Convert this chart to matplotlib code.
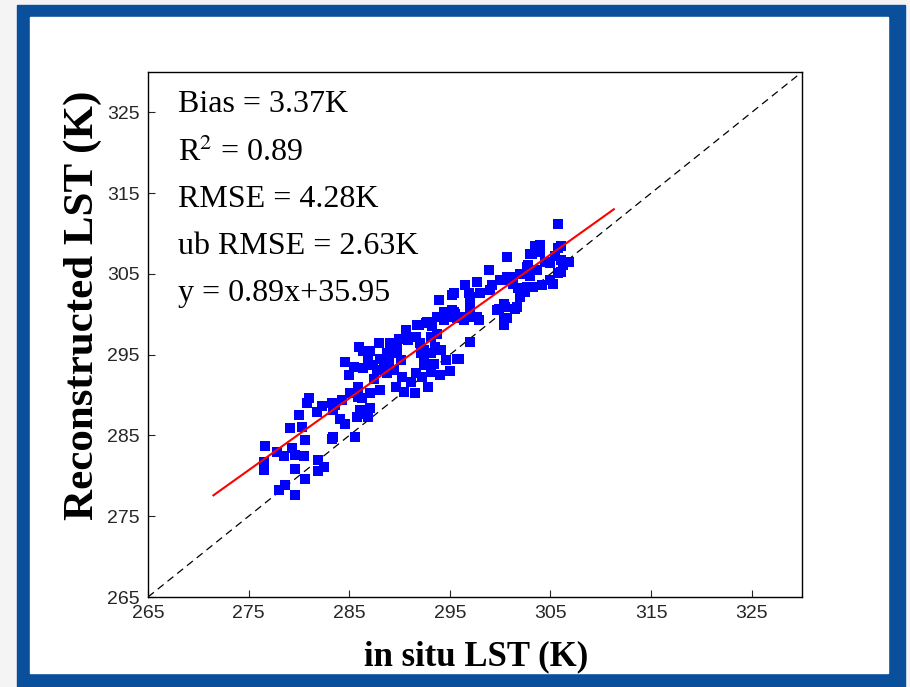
import numpy as np
import matplotlib
matplotlib.use("Agg")
import matplotlib.pyplot as plt
from matplotlib.patches import Rectangle

# scatter values (K)
insitu = [278.0, 278.6, 279.6, 280.6, 279.6, 281.9, 281.9, 282.5, 276.6, 276.5,
          276.5, 277.8, 278.5, 279.3, 279.6, 280.5, 280.6, 280.3, 279.1, 280.0,
          280.8, 281.0, 281.8, 282.3, 283.3, 284.3, 283.3, 285.6, 285.8, 286.9,
          287.1, 285.9, 283.6, 284.1, 284.6, 286.8, 286.3, 285.9, 287.1, 288.1,
          285.1, 283.4, 284.6, 286.4, 286.9, 286.4, 287.4, 288.1, 288.8, 289.1,
          289.9, 290.6, 289.7, 290.1, 289.4, 290.2, 289.6, 290.4, 291.1, 291.6,
          292.2, 292.4, 292.1, 293.1, 293.4, 293.1, 291.6, 291.9, 292.6, 293.2,
          293.1, 293.7, 294.4, 294.9, 295.5, 296.2, 297.0, 297.7, 294.1, 294.6,
          295.7, 297.0, 287.1, 287.8, 288.8, 298.9, 297.7, 296.5, 296.9, 298.0,
          299.0, 300.0, 300.7, 301.3, 302.7, 302.7, 302.0, 300.4, 299.7, 300.7,
          300.4, 301.7, 297.0, 297.4, 296.4, 295.2, 293.9, 294.4, 295.2, 295.7,
          293.7, 292.7, 291.7, 289.7, 292.4, 292.4, 300.7, 303.2, 304.0, 302.8,
          303.7, 305.0, 306.0, 306.8, 305.7, 305.0, 305.3, 304.2, 303.3, 302.5,
          301.5, 300.5, 299.9, 300.4, 299.2, 300.5, 301.2, 297.0, 297.0, 295.4,
          295.4, 297.9, 295.9, 305.7, 303.5, 304.0, 303.0, 305.7, 306.0, 306.2,
          306.0, 283.4, 286.1, 285.5, 288.5, 289.0, 286.0, 288.0, 287.5, 285.0,
          292.0, 293.5, 290.8, 294.0, 295.0, 292.8, 291.5, 304.5, 303.0, 305.5,
          302.0, 301.8]
recon = [278.3, 278.9, 277.6, 279.6, 280.8, 282.0, 280.6, 281.1, 283.7, 281.7,
         280.7, 283.0, 282.4, 283.4, 282.6, 282.4, 284.4, 286.1, 285.9, 287.5,
         289.0, 289.6, 287.9, 288.6, 289.0, 289.4, 284.6, 284.8, 287.3, 287.3,
         288.4, 289.8, 288.8, 287.0, 286.4, 287.7, 289.6, 291.0, 290.2, 290.6,
         290.2, 288.1, 294.1, 295.4, 294.3, 293.3, 293.7, 294.5, 295.2, 296.4,
         297.0, 298.0, 295.2, 294.3, 293.1, 292.3, 291.0, 290.4, 291.6, 292.7,
         292.3, 293.7, 295.2, 295.2, 293.9, 292.9, 297.2, 298.7, 298.9, 298.5,
         297.2, 297.6, 299.3, 299.7, 300.1, 299.7, 300.1, 299.7, 295.6, 294.3,
         294.5, 296.6, 295.4, 293.1, 292.7, 305.5, 304.0, 303.6, 302.6, 302.6,
         303.0, 304.2, 304.6, 303.8, 305.9, 303.4, 302.2, 301.3, 300.5, 299.5,
         298.7, 300.9, 300.9, 299.7, 299.3, 302.4, 301.8, 300.3, 300.5, 299.5,
         299.7, 299.1, 298.7, 296.0, 295.6, 294.3, 307.1, 307.5, 307.7, 306.1,
         305.5, 306.3, 306.7, 306.5, 305.1, 304.2, 303.8, 303.6, 303.4, 302.8,
         300.7, 300.9, 300.7, 299.3, 303.6, 304.2, 304.6, 302.2, 299.9, 302.6,
         300.3, 299.3, 294.5, 311.2, 308.4, 308.6, 307.5, 308.2, 308.4, 306.1,
         305.3, 284.8, 288.1, 293.5, 293.8, 294.0, 296.0, 296.5, 292.0, 292.5,
         296.5, 296.0, 296.8, 292.5, 293.0, 291.0, 290.2, 306.5, 304.8, 307.2,
         305.0, 303.2]

fit_slope = 0.89
fit_intercept = 35.95
fit_x_range = [271.5, 311.3]
axis_range = [265, 330]
ticks = [265, 275, 285, 295, 305, 315, 325]
stats_lines = ["Bias = 3.37K", r"R$^{2}$ = 0.89", "RMSE = 4.28K",
               "ub RMSE = 2.63K", "y = 0.89x+35.95"]

plt.rcParams['mathtext.fontset'] = 'stix'

fig = plt.figure(figsize=(9.1, 6.87), dpi=100)
fig.patch.set_facecolor('#f4f4f4')
W, H = 910.0, 687.0
# blue frame around the slide
fig.patches.append(Rectangle((17 / W, 0), (905 - 17) / W, (687 - 5) / H,
                             transform=fig.transFigure, color='#0a4f9c', zorder=-20))
fig.patches.append(Rectangle((30 / W, (687 - 673) / H), (888 - 30) / W, (673 - 17) / H,
                             transform=fig.transFigure, color='white', zorder=-10))

ax = fig.add_axes([148 / W, 1 - 597 / H, (802 - 148) / W, (597 - 72) / H])
ax.set_facecolor('white')

ax.plot(axis_range, axis_range, color='black', lw=0.9, dashes=(6, 4), zorder=1)
ax.scatter(insitu, recon, marker='s', s=56, color='#0000ff', linewidths=0, zorder=2)
fx = np.array(fit_x_range)
ax.plot(fx, fit_slope * fx + fit_intercept, color='#ff0000', lw=1.5, zorder=3)

ax.set_xlim(axis_range)
ax.set_ylim(axis_range)
ax.set_xticks(ticks)
ax.set_yticks(ticks)
ax.tick_params(direction='in', length=5, width=0.8, labelsize=14, colors='#262626',
               labelcolor='#262626', pad=6)
for lab in ax.get_xticklabels() + ax.get_yticklabels():
    lab.set_family(['Liberation Sans', 'DejaVu Sans'])
for sp in ax.spines.values():
    sp.set_color('black')
    sp.set_linewidth(1.0)

ax.set_xlabel('in situ LST (K)', fontsize=25, fontweight='bold',
              family='Liberation Serif', va='center')
ax.xaxis.set_label_coords(0.501, -0.114)
ax.set_ylabel('Reconstructed LST (K)', fontsize=31, fontweight='bold',
              family='Liberation Serif', va='center')
ax.yaxis.set_label_coords(-0.1, 0.556)

ys = [0.939, 0.847, 0.757, 0.668, 0.579]
for t, yy in zip(stats_lines, ys):
    ax.text(0.046, yy, t, transform=ax.transAxes, fontsize=23,
            family='Liberation Serif', va='center', ha='left', color='black')

fig.savefig('out.png', dpi=100, facecolor=fig.get_facecolor())
